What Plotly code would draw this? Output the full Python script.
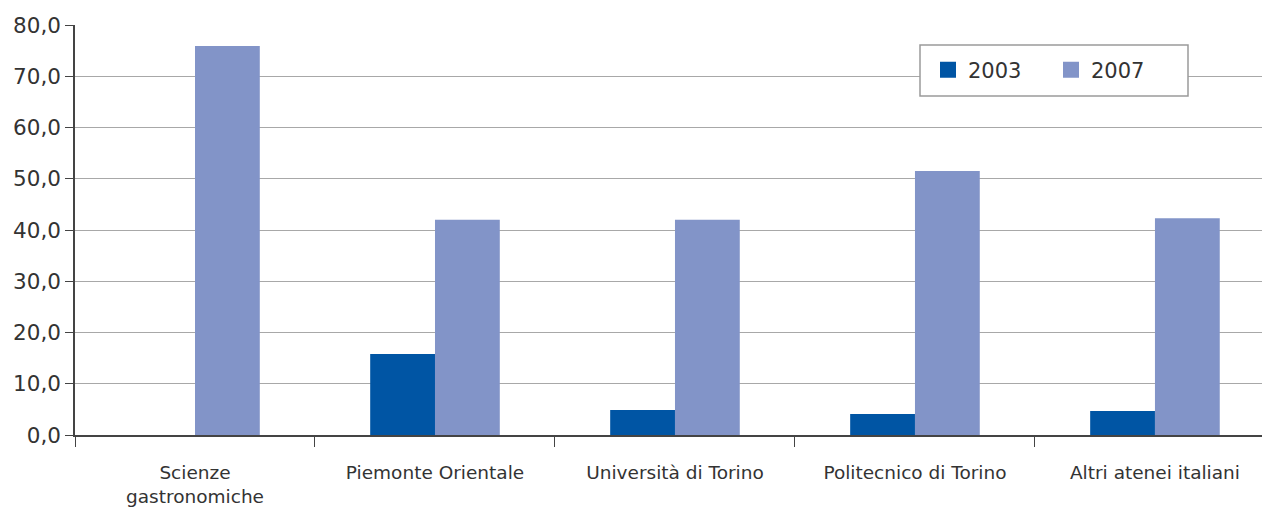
import plotly.graph_objects as go

categories = ["Scienze<br>gastronomiche", "Piemonte Orientale", "Università di Torino",
              "Politecnico di Torino", "Altri atenei italiani"]
values_2003 = [None, 15.8, 4.9, 4.1, 4.7]
values_2007 = [75.9, 42.0, 42.0, 51.5, 42.3]
y_ticks = [0, 10, 20, 30, 40, 50, 60, 70, 80]
series_names = ["2003", "2007"]
colors = ["#0055A4", "#8294C8"]

FONT = "DejaVu Sans"
TXT = "#333333"

fig = go.Figure()
for name, vals, col in zip(series_names, [values_2003, values_2007], colors):
    fig.add_trace(go.Bar(name=name, x=categories, y=vals, marker_color=col,
                         marker_line_width=0, showlegend=False))
# legend entries with larger square swatches
for name, col in zip(series_names, colors):
    fig.add_trace(go.Scatter(name=name, x=[None], y=[None], mode="markers",
                             marker=dict(symbol="square", size=18, color=col),
                             showlegend=True))

PW = 1262 - 75
PH = 435 - 25
# legend frame (white box interrupting gridlines)
fig.add_shape(type="rect", xref="paper", yref="paper",
              x0=(920 - 75) / PW, x1=(1188 - 75) / PW,
              y0=(435 - 96) / PH, y1=(435 - 45) / PH,
              fillcolor="white", line=dict(color="#9a9a9a", width=1.5), layer="above")

fig.update_layout(
    width=1262, height=509,
    margin=dict(l=75, r=0, t=25, b=74),
    paper_bgcolor="white", plot_bgcolor="white",
    barmode="group", bargap=0.46, bargroupgap=0,
    separators=",.",
    font=dict(family=FONT, color=TXT, size=18),
    showlegend=True,
    legend=dict(orientation="h", x=(928 - 75) / PW, y=(435 - 70) / PH,
                xanchor="left", yanchor="middle",
                bgcolor="rgba(0,0,0,0)", borderwidth=0,
                font=dict(size=21, family=FONT, color=TXT),
                itemwidth=30, entrywidth=78, tracegroupgap=0),
    xaxis=dict(type="category", range=[-0.5, 4.446], tickson="boundaries",
               ticks="outside", ticklen=10, tickcolor="#444444", tickwidth=1.3,
               showline=True, linecolor="#444444", linewidth=1.5,
               showgrid=False, tickfont=dict(size=18.5, family=FONT, color=TXT),
               ticklabelstandoff=20, fixedrange=True),
    yaxis=dict(range=[0, 80], tickvals=y_ticks, tickformat=".1f",
               ticks="outside", ticklen=8, tickcolor="#444444", tickwidth=1.3,
               showline=True, linecolor="#444444", linewidth=1.5,
               showgrid=True, gridcolor="#a8a8a8", gridwidth=1.3,
               zeroline=False,
               tickfont=dict(size=21.5, family=FONT, color=TXT), ticklabelstandoff=0,
               fixedrange=True),
)

fig.write_html("out.html", config={"displayModeBar": False},
               post_script="document.body.style.margin='0';document.body.style.overflow='hidden';")
